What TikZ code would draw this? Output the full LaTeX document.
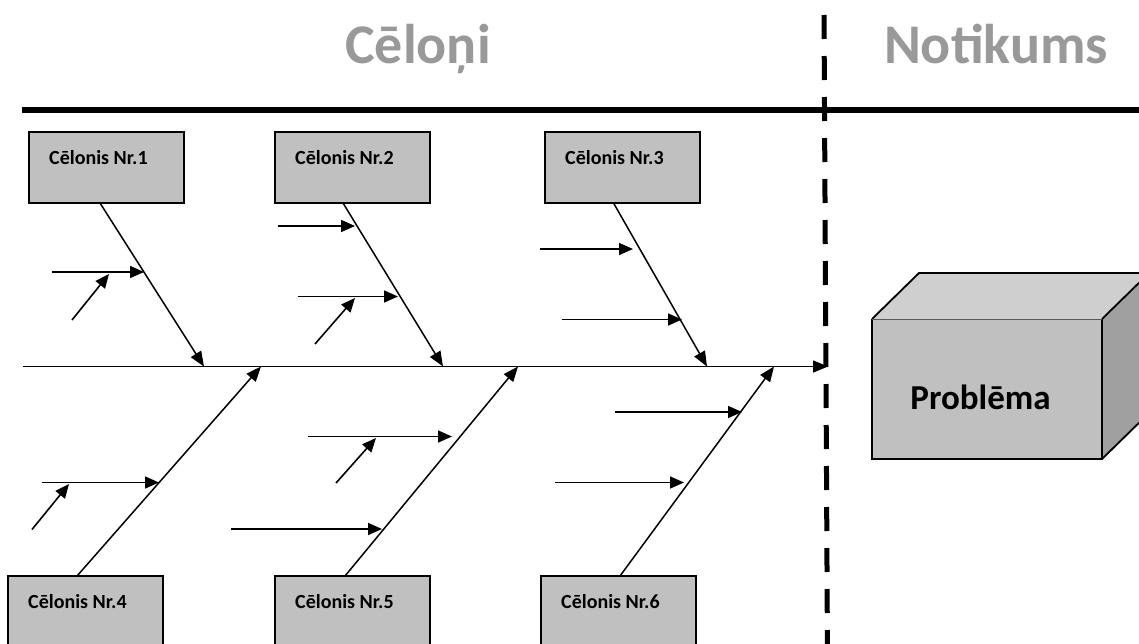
\documentclass[tikz,border=0pt]{standalone}
\usepackage{fontspec}
\setmainfont{Carlito}
\usetikzlibrary{arrows.meta,calc}
\definecolor{boxgray}{HTML}{C0C0C0}
\definecolor{titlegray}{HTML}{999999}
\definecolor{topgray}{HTML}{CFCFCF}
\definecolor{sidegray}{HTML}{A0A0A0}
\begin{document}
\begin{tikzpicture}[x=1pt,y=-1pt,
  causebox/.style={draw=black, line width=1.5pt, fill=boxgray, minimum width=155pt,
    anchor=north west, inner sep=0pt, outer sep=0pt},
  causelbl/.style={font=\fontsize{20}{24}\selectfont\bfseries, anchor=base west, inner sep=0pt},
  heading/.style={font=\fontsize{56}{60}\selectfont\bfseries, text=titlegray, anchor=base, inner sep=0pt},
  bone/.style={line width=1.5pt, -{Triangle[length=15pt,width=12pt]}},
  twig/.style={line width=1.6pt, -{Triangle[length=14pt,width=12pt]}},
  edge3d/.style={line width=1.8pt, line join=miter}]
\useasboundingbox (0,0) rectangle (1139,643);
\clip (0,0) rectangle (1139,643);

% headings and dividers
\node[heading] (hc) at (418,63) {Cēloņi};
\node[heading] (hn) at (996,63) {Notikums};
\draw[line width=6pt] (22,109.5) -- (1145,109.5);
\draw[line width=5pt, dash pattern=on 24pt off 17pt] (824,15) -- (827.5,660);

% cause boxes
\node[causebox, minimum height=71pt] (c1) at (29,132) {};
\node[causebox, minimum height=71pt] (c2) at (275,132) {};
\node[causebox, minimum height=71pt] (c3) at (545,132) {};
\node[causebox, minimum height=90pt] (c4) at (8,576) {};
\node[causebox, minimum height=90pt] (c5) at (275,576) {};
\node[causebox, minimum height=90pt] (c6) at (541,576) {};
\foreach \b/\n in {c1/1,c2/2,c3/3,c4/4,c5/5,c6/6}
  \node[causelbl] (l\n) at ($(\b.north west)+(20,32)$) {Cēlonis Nr.\n};

% spine
\coordinate (spL) at (23,366.5);
\coordinate (spR) at (828,366.5);
\draw[bone] (spL) -- (spR);

% main bones
\coordinate (t1) at (204,366.5);
\coordinate (t2) at (443,366.5);
\coordinate (t3) at (707,366.5);
\coordinate (t4) at (261,366.5);
\coordinate (t5) at (518,366.5);
\coordinate (t6) at (774,366.5);
\draw[bone] ($(c1.south west)+(71,0)$) -- (t1);
\draw[bone] ($(c2.south west)+(68,0)$) -- (t2);
\draw[bone] ($(c3.south west)+(68.5,0)$) -- (t3);
\draw[bone] ($(c4.north west)+(69,0)$) -- (t4);
\draw[bone] ($(c5.north west)+(70,0)$) -- (t5);
\draw[bone] ($(c6.north west)+(79,0)$) -- (t6);

% secondary causes
\foreach \i/\sx/\sy/\ex/\ey in {
   1/52/272/144/272,
   2/72/320/109/274,
   3/278/226/355/226,
   4/298/296.5/398/296.5,
   5/315/344/355/298,
   6/540/249/633/249,
   7/562/319.5/682/319.5,
   8/615/412/742/412,
   9/555/482.5/684/482.5,
   10/308/436.5/452/436.5,
   11/336/483/376/438,
   12/231/529/382/529,
   13/42/482.5/159/482.5,
   14/32/529.5/69/484}{
  \coordinate (a\i) at (\sx,\sy);
  \coordinate (e\i) at (\ex,\ey);
  \draw[twig] (a\i) -- (e\i);
}

% problem block
\coordinate (fA) at (872,319);
\coordinate (fB) at (1102,319);
\coordinate (fC) at (1102,459);
\coordinate (fD) at (872,459);
\coordinate (bA) at (919,273);
\coordinate (bB) at (1149,273);
\coordinate (bC) at (1149,413);
\fill[topgray] (fA) -- (bA) -- (bB) -- (fB) -- cycle;
\fill[sidegray] (fB) -- (bB) -- (bC) -- (fC) -- cycle;
\fill[boxgray] (fA) rectangle (fC);
\draw[edge3d] (fA) -- (bA) -- (bB) -- (fB);
\draw[edge3d] (bB) -- (bC) -- (fC);
\draw[edge3d] (fA) -- (fD) -- (fC) -- (fB);
\draw[line width=1pt, black!65] (fA) -- (fB);
\node[font=\fontsize{35}{40}\selectfont\bfseries, anchor=base, inner sep=0pt] (prob) at (980.5,409) {Problēma};
\end{tikzpicture}
\end{document}
